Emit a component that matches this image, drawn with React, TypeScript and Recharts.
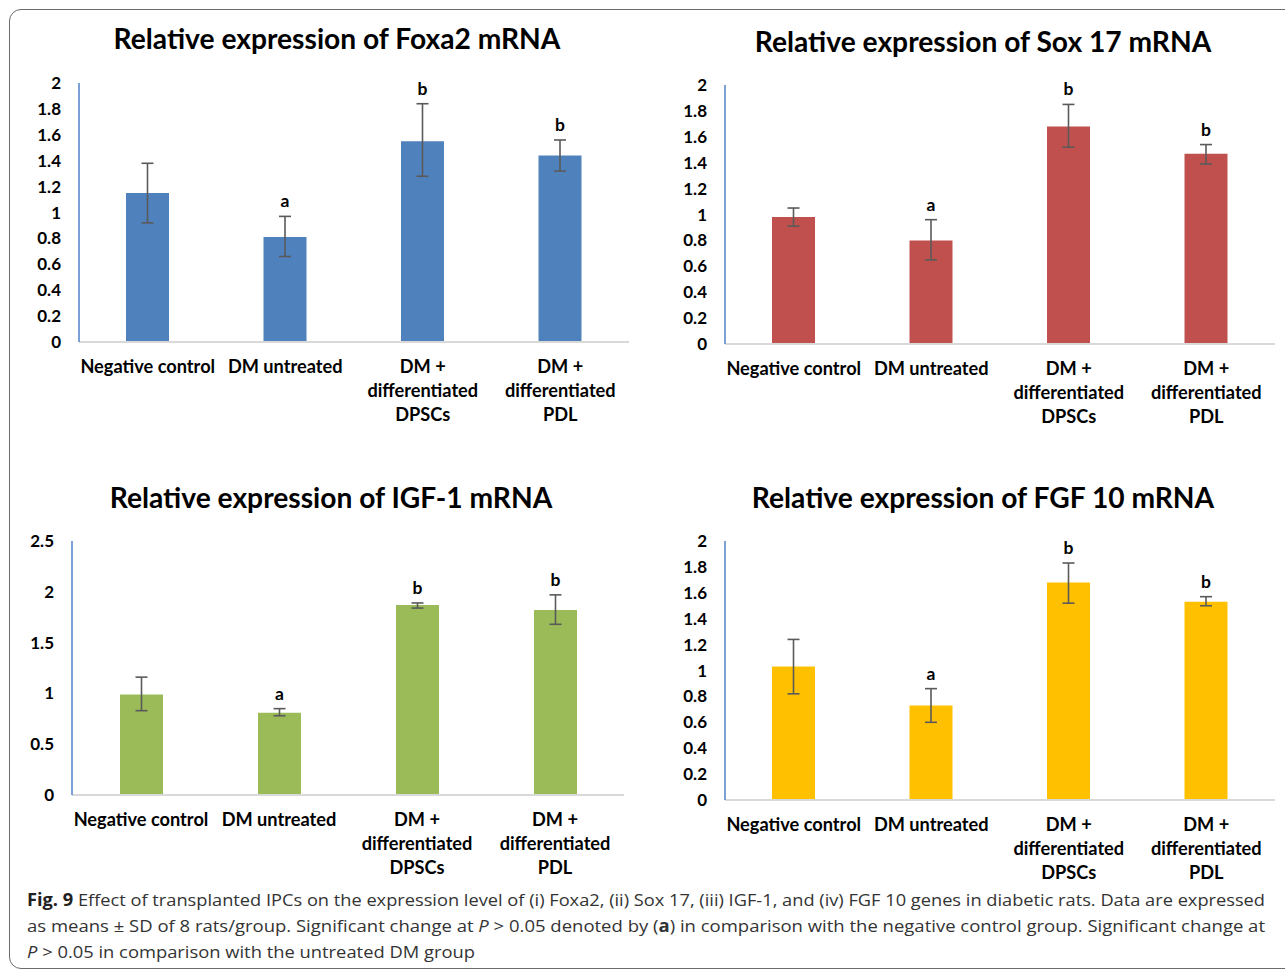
import React from "react";
import { BarChart, Bar, XAxis, YAxis, ErrorBar, LabelList } from "recharts";

const categories = ["Negative control", "DM untreated", "DM + differentiated DPSCs", "DM + differentiated PDL"];
const categoryLines = [["Negative control"], ["DM untreated"], ["DM +", "differentiated", "DPSCs"], ["DM +", "differentiated", "PDL"]];
const sigLetters = ["", "a", "b", "b"];

const foxa2Means = [1.15, 0.81, 1.55, 1.44];
const foxa2Err = [[0.23, 0.23], [0.15, 0.16], [0.27, 0.29], [0.12, 0.12]];

const sox17Means = [0.98, 0.8, 1.68, 1.47];
const sox17Err = [[0.07, 0.07], [0.15, 0.16], [0.16, 0.17], [0.08, 0.07]];

const igf1Means = [0.99, 0.81, 1.87, 1.82];
const igf1Err = [[0.16, 0.17], [0.03, 0.04], [0.03, 0.02], [0.14, 0.15]];

const fgf10Means = [1.03, 0.73, 1.68, 1.53];
const fgf10Err = [[0.21, 0.21], [0.13, 0.13], [0.16, 0.15], [0.03, 0.04]];

const ticks2 = [0, 0.2, 0.4, 0.6, 0.8, 1, 1.2, 1.4, 1.6, 1.8, 2];
const ticks25 = [0, 0.5, 1, 1.5, 2, 2.5];

const FONT = "Lato, 'Open Sans', sans-serif";

function CategoryTick(props: any) {
  const { x, y, payload } = props;
  const lines = categoryLines[categories.indexOf(payload.value)] || [payload.value];
  return (
    <g>
      {lines.map((l, i) => (
        <text key={i} x={x} y={y + 31 + i * 24} textAnchor="middle" fontFamily={FONT} fontWeight="bold" fontSize={18.2} fill="#000">
          {l}
        </text>
      ))}
    </g>
  );
}

interface PanelProps {
  title: string;
  means: number[];
  errs: number[][];
  color: string;
  yTicks: number[];
  left: number;
  top: number;
  plotW: number;
  plotH: number;
  titleX: number;
  titleY: number;
}

function Panel({ title, means, errs, color, yTicks, left, top, plotW, plotH, titleX, titleY }: PanelProps) {
  const data = categories.map((c, i) => ({ name: c, value: means[i], err: errs[i], sig: sigLetters[i] }));
  const yMax = yTicks[yTicks.length - 1];

  const renderSig = (p: any) => {
    const vb = p.viewBox || p;
    const d = data[p.index];
    if (!d || !d.sig) return null;
    const perUnit = vb.height / d.value;
    const errTop = vb.y - d.err[1] * perUnit;
    return (
      <text x={vb.x + vb.width / 2} y={errTop - 9} textAnchor="middle" fontFamily={FONT} fontWeight="bold" fontSize={17.5} fill="#000">
        {d.sig}
      </text>
    );
  };

  return (
    <>
      <div
        style={{
          position: "absolute",
          left: titleX - 320,
          width: 640,
          top: titleY - 16,
          lineHeight: "32px",
          textAlign: "center",
          fontFamily: FONT,
          fontWeight: "bold",
          fontSize: 28.2,
          color: "#000",
        }}
      >
        {title}
      </div>
      <div style={{ position: "absolute", left: left - 60, top: top - 10 }}>
        <BarChart width={plotW + 60 + 2} height={plotH + 10 + 100} data={data} margin={{ top: 10, right: 2, bottom: 0, left: 0 }} barSize={43}>
          <XAxis
            dataKey="name"
            interval={0}
            tick={<CategoryTick />}
            tickLine={false}
            tickSize={0}
            tickMargin={0}
            height={100}
            axisLine={{ stroke: "#D9D9D9", strokeWidth: 2 }}
          />
          <YAxis
            type="number"
            domain={[0, yMax]}
            ticks={yTicks}
            width={60}
            tickLine={false}
            tickSize={0}
            tickMargin={18}
            axisLine={{ stroke: "#4F81C7", strokeWidth: 1.5 }}
            tick={{ fontFamily: FONT, fontWeight: "bold", fontSize: 17, fill: "#000" }}
          />
          <Bar dataKey="value" fill={color} isAnimationActive={false}>
            <ErrorBar dataKey="err" width={6} strokeWidth={1.6} stroke="#5A5A5A" direction="y" />
            <LabelList dataKey="sig" content={renderSig} />
          </Bar>
        </BarChart>
      </div>
    </>
  );
}

export default function App() {
  return (
    <div style={{ position: "absolute", left: 0, top: 0, width: 1285, height: 972, overflow: "hidden", background: "#fff" }}>
      <div
        style={{
          position: "absolute",
          left: 9,
          top: 9,
          width: 1300,
          height: 958,
          border: "1.5px solid #6b6b6b",
          borderRadius: 12,
        }}
      />
      <Panel title="Relative expression of Foxa2 mRNA" means={foxa2Means} errs={foxa2Err} color="#4F81BD" yTicks={ticks2}
        left={79} top={83} plotW={550} plotH={259} titleX={337} titleY={38} />
      <Panel title="Relative expression of Sox 17 mRNA" means={sox17Means} errs={sox17Err} color="#C0504D" yTicks={ticks2}
        left={725} top={85} plotW={550} plotH={259} titleX={983} titleY={41} />
      <Panel title="Relative expression of IGF-1 mRNA" means={igf1Means} errs={igf1Err} color="#9BBB59" yTicks={ticks25}
        left={72} top={541} plotW={552} plotH={254} titleX={331} titleY={497} />
      <Panel title="Relative expression of FGF 10 mRNA" means={fgf10Means} errs={fgf10Err} color="#FFC000" yTicks={ticks2}
        left={725} top={541} plotW={550} plotH={259} titleX={983} titleY={497} />
      <svg style={{ position: "absolute", left: 0, top: 880 }} width={1285} height={92}>
        <g fontFamily="'Open Sans', sans-serif" fontSize={17} fill="#333">
          <text x={27} y={26} textLength={1238} lengthAdjust="spacingAndGlyphs">
            <tspan fontWeight="bold" fill="#222">Fig. 9</tspan>
            <tspan>{"  Effect of transplanted IPCs on the expression level of (i) Foxa2, (ii) Sox 17, (iii) IGF-1, and (iv) FGF 10 genes in diabetic rats. Data are expressed"}</tspan>
          </text>
          <text x={27} y={52} textLength={1238} lengthAdjust="spacingAndGlyphs">
            <tspan>{"as means ± SD of 8 rats/group. Significant change at "}</tspan>
            <tspan fontStyle="italic">P</tspan>
            <tspan>{" > 0.05 denoted by ("}</tspan>
            <tspan fontWeight="bold">a</tspan>
            <tspan>{") in comparison with the negative control group. Significant change at"}</tspan>
          </text>
          <text x={27} y={78} textLength={448} lengthAdjust="spacingAndGlyphs">
            <tspan fontStyle="italic">P</tspan>
            <tspan>{" > 0.05 in comparison with the untreated DM group"}</tspan>
          </text>
        </g>
      </svg>
    </div>
  );
}
